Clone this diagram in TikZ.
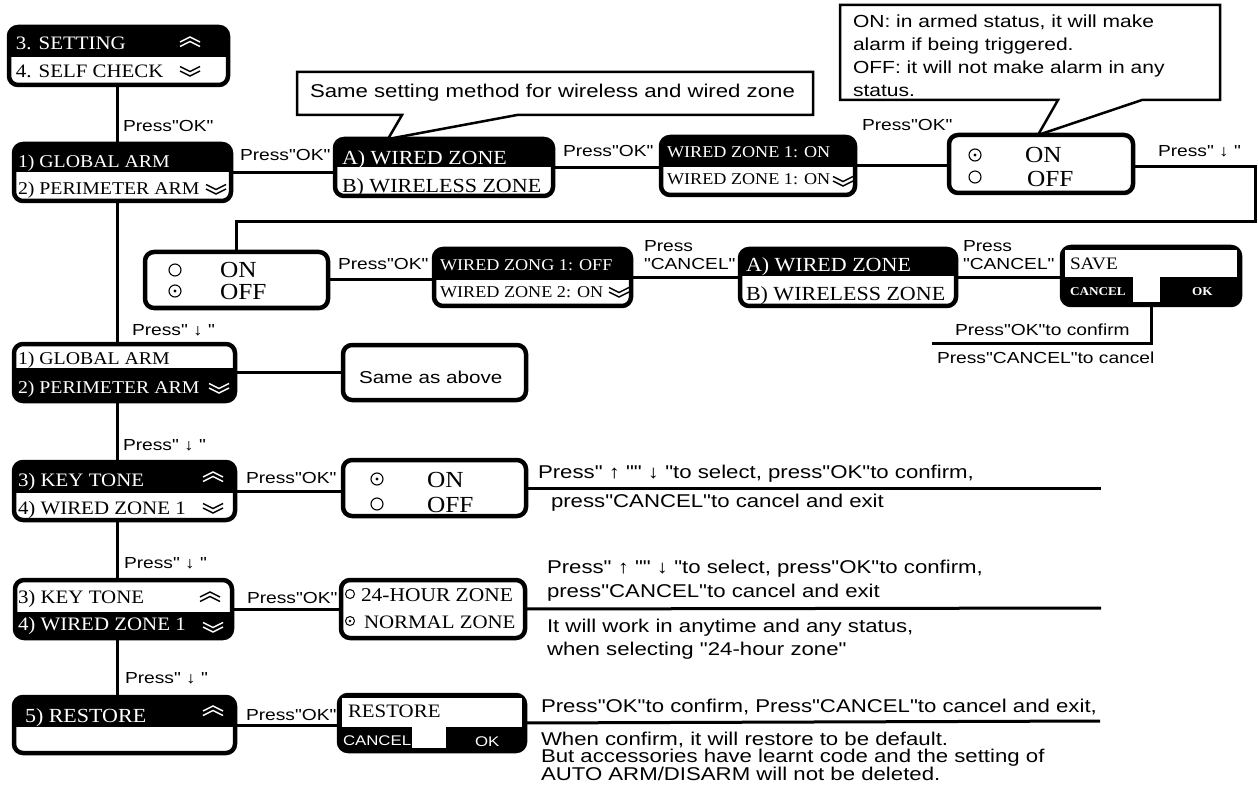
\documentclass[tikz,border=0pt]{standalone}
\usepackage{fontspec}
\setmainfont{Liberation Serif}[FakeStretch=1.1]
\newfontfamily\lab{Liberation Sans}[FakeStretch=1.2]
\usetikzlibrary{calc}
\newcommand{\sz}[1]{\fontsize{#1pt}{#1pt}\selectfont}

\begin{document}
\begin{tikzpicture}[x=1pt,y=-1pt,
  conn/.style={line width=3pt},
  box/.style={draw=black, line width=4.5pt, rounded corners=9pt, fill=white, inner sep=0pt, outer sep=0pt},
  bx/.style n args={2}{minimum width=#1pt, minimum height=#2pt},
  topblack/.style={path picture={\fill[black,sharp corners] (path picture bounding box.north west) rectangle ([yshift=-#1pt]path picture bounding box.north east);}},
  botblack/.style={path picture={\fill[black,sharp corners] ([yshift=-#1pt]path picture bounding box.north west) rectangle (path picture bounding box.south east);}},
  tx/.style={anchor=base west, inner sep=0pt, outer sep=0pt},
  lb/.style={tx, font=\lab\sz{16}},
  bt/.style={tx, font=\lab\sz{18.5}},
  sf/.style={tx, font=\sz{#1}},
  wt/.style={text=white},
  callout/.style={draw=black, line width=2.5pt, fill=white, line join=miter, sharp corners},
  holder/.style={inner sep=0pt, outer sep=0pt},
  chevup/.pic={\draw[line width=1.5pt] (-10,0)--(0,-5)--(10,0) (-10,4.5)--(0,-0.5)--(10,4.5);},
  chevdn/.pic={\draw[line width=1.5pt] (-10,0)--(0,5)--(10,0) (-10,-4.5)--(0,0.5)--(10,-4.5);},
  radon/.pic={\draw[line width=1.1pt] (0,0) circle (6pt); \fill (0,0) circle (1.6pt);},
  radoff/.pic={\draw[line width=1.1pt] (0,0) circle (6pt);},
  radons/.pic={\draw[line width=1pt] (0,0) circle (4.5pt); \fill (0,0) circle (1.3pt);},
  radoffs/.pic={\draw[line width=1pt] (0,0) circle (4.5pt);},
]
\useasboundingbox (0,0) rectangle (1258,794);
\fill[white] (0,0) rectangle (1258,794);

% ---------- boxes ----------
\node[box,bx={219}{58},topblack=30] (b1) at (118.5,56) {};
\node[box,bx={217}{57},topblack=28] (b2) at (122.5,172.5) {};
\node[box,bx={218}{57},topblack=28] (b3) at (444,167.5) {};
\node[box,bx={194}{58},topblack=30] (b4) at (758,166) {};
\node[box,bx={184}{58}] (b5) at (1041,164) {};
\node[box,bx={183}{56}] (b6) at (236.5,280) {};
\node[box,bx={197}{57},topblack=31] (b7) at (532.5,277.5) {};
\node[box,bx={216}{57},topblack=27] (b8) at (848,277.5) {};
\node[box,bx={178}{58},fill=black] (b9) at (1151,276) {};
\node[box,bx={221}{57},botblack=24] (b10) at (124.5,372.5) {};
\node[box,bx={183}{55}] (same) at (434.5,372.5) {};
\node[box,bx={221}{58},topblack=31] (b11) at (124.5,491) {};
\node[box,bx={183}{56}] (b12) at (434.5,488) {};
\node[box,bx={217}{58},botblack=32] (b13) at (123.5,609) {};
\node[box,bx={184}{58}] (b14) at (433,609) {};
\node[box,bx={221}{56},topblack=30] (b15) at (124.5,725) {};
\node[box,bx={186}{56},fill=black] (b16) at (432,723) {};

% white parts of the SAVE / RESTORE boxes
\fill[white] ($(b9.north west)+(3,3)$) rectangle ($(b9.north east)+(-3,30)$);
\fill[white] ($(b9.north west)+(71,29)$) rectangle ($(b9.north west)+(98,55)$);
\fill[white] ($(b16.north west)+(3,3)$) rectangle ($(b16.north east)+(-3,32)$);
\fill[white] ($(b16.north west)+(73,31)$) rectangle ($(b16.north west)+(107,53)$);

% ---------- connectors ----------
\coordinate (sp) at (117,0);
\coordinate (rt) at (1255,222);
\coordinate (sv) at (932,343);
\coordinate (e1) at (1101,488);
\coordinate (e2) at (1101,608);
\coordinate (e3) at (1100,721);

\draw[conn] (b1.south -| sp) -- (b2.north -| sp);
\draw[conn] (b2.south -| sp) -- (b10.north -| sp);
\draw[conn] (b10.south -| sp) -- (b11.north -| sp);
\draw[conn] (b11.south -| sp) -- (b13.north -| sp);
\draw[conn] (b13.south -| sp) -- (b15.north -| sp);
\draw[conn] (b2.east) -- (b2.east -| b3.west);
\draw[conn] (b3.east) -- (b3.east -| b4.west);
\draw[conn] (b4.east) -- (b4.east -| b5.west);
\draw[conn] ([yshift=-3pt]b5.east) -| (rt) -| (b6.north);
\draw[conn] (b6.east) -- (b6.east -| b7.west);
\draw[conn] (b7.east) -- (b7.east -| b8.west);
\draw[conn] (b8.east) -- (b8.east -| b9.west);
\draw[conn] (b9.south) |- (sv);
\draw[conn] (b10.east) -- (same.west);
\draw[conn] (b11.east) -- (b11.east -| b12.west);
\draw[conn] (b12.east) -- (e1);
\draw[conn] (b13.east) -- (b14.west);
\draw[conn] (b14.east) -- (e2);
\draw[conn] (b15.east) -- (b15.east -| b16.west);
\draw[conn] (b16.east) -- (e3);

% ---------- callouts ----------
\node[holder, minimum width=516pt, minimum height=43pt] (cl1) at (555,93.5) {};
\draw[callout] (cl1.north west) -- (cl1.north east) -- (cl1.south east)
  -- ($(cl1.south west)+(220,0)$) -- ($(b3.north west)+(53,0)$)
  -- ($(cl1.south west)+(105,0)$) -- (cl1.south west) -- cycle;
\node[tx, font=\lab\sz{18.5}] (cl1t) at (310,98) {Same setting method for wireless and wired zone};

\node[holder, minimum width=380pt, minimum height=95pt] (cl2) at (1030,52.5) {};
\draw[callout] (cl2.north west) -- (cl2.north east) -- (cl2.south east)
  -- ($(cl2.south west)+(302,0)$) -- ($(b5.north)+(-3,0)$)
  -- ($(cl2.south west)+(218,0)$) -- (cl2.south west) -- cycle;
\node[tx, font=\lab\sz{17.5}] (cl2a) at (853,28) {ON: in armed status, it will make};
\node[tx, font=\lab\sz{17.5}] (cl2b) at (853,51) {alarm if being triggered.};
\node[tx, font=\lab\sz{17.5}] (cl2c) at (853,74) {OFF: it will not make alarm in any};
\node[tx, font=\lab\sz{17.5}] (cl2d) at (853,97) {status.};

% ---------- box texts ----------
\node[sf=19, wt] (t1a) at (16,50) {3. SETTING};
\node[sf=19] (t1b) at (16,78) {4. SELF CHECK};
\pic[color=white] at (190,42) {chevup};
\pic at (190,71) {chevdn};

\node[sf=18, wt] (t2a) at (18,168) {1) GLOBAL ARM};
\node[sf=18] (t2b) at (18,195) {2) PERIMETER ARM};
\pic at (216,189) {chevdn};

\node[sf=20, wt] (t3a) at (342,165) {A) WIRED ZONE};
\node[sf=20] (t3b) at (342,193) {B) WIRELESS ZONE};

\node[sf=16.5, wt] (t4a) at (667,158) {WIRED ZONE 1: ON};
\node[sf=16.5] (t4b) at (667,185) {WIRED ZONE 1: ON};
\pic at (843,181) {chevdn};

\pic at (975,155) {radon};
\node[sf=23] (t5a) at (1025,163) {ON};
\pic at (975,177) {radoff};
\node[sf=23] (t5b) at (1027,187) {OFF};

\pic at (175,270) {radoff};
\node[sf=23] (t6a) at (220,278) {ON};
\pic at (175,291) {radon};
\node[sf=23] (t6b) at (220,300) {OFF};

\node[sf=16.5, wt] (t7a) at (440,271) {WIRED ZONG 1: OFF};
\node[sf=16.5] (t7b) at (440,298) {WIRED ZONE 2: ON};
\pic at (619,292) {chevdn};

\node[sf=20, wt] (t8a) at (746,272) {A) WIRED ZONE};
\node[sf=20] (t8b) at (746,301) {B) WIRELESS ZONE};

\node[sf=17.5] (t9a) at (1070,270) {SAVE};
\node[tx, font=\bfseries\sz{12}, wt] (t9b) at (1070,295) {CANCEL};
\node[tx, font=\bfseries\sz{12}, wt] (t9c) at (1192,295) {OK};

\node[sf=18] (t10a) at (18,364) {1) GLOBAL ARM};
\node[sf=18, wt] (t10b) at (18,393) {2) PERIMETER ARM};
\pic[color=white] at (219,388) {chevdn};

\node[tx, font=\lab\sz{17.2}] (tsame) at (359,383) {Same as above};

\node[sf=19, wt] (t11a) at (18,486) {3) KEY TONE};
\node[sf=19] (t11b) at (18,514) {4) WIRED ZONE 1};
\pic[color=white] at (213,477) {chevup};
\pic at (213,508) {chevdn};

\pic at (377,479) {radon};
\node[sf=23] (t12a) at (427,487) {ON};
\pic at (377,504) {radoff};
\node[sf=23] (t12b) at (427,512) {OFF};

\node[sf=19] (t13a) at (18,603) {3) KEY TONE};
\node[sf=19, wt] (t13b) at (18,630) {4) WIRED ZONE 1};
\pic at (210,597) {chevup};
\pic[color=white] at (213,627) {chevdn};

\pic at (350,594) {radoffs};
\node[sf=19.5] (t14a) at (361,601) {24-HOUR ZONE};
\pic at (350,621) {radons};
\node[sf=19] (t14b) at (364,628) {NORMAL ZONE};

\node[sf=20, wt] (t15a) at (25,722) {5) RESTORE};
\pic[color=white] at (213,711) {chevup};

\node[sf=19] (t16a) at (348,717) {RESTORE};
\node[tx, font=\lab\sz{14}, wt] (t16b) at (343,745) {CANCEL};
\node[tx, font=\lab\sz{14}, wt] (t16c) at (475,746) {OK};

% ---------- connector labels ----------
\node[lb] (l1) at (123,132) {Press"OK"};
\node[lb] (l2) at (240,161) {Press"OK"};
\node[lb] (l3) at (563,157) {Press"OK"};
\node[lb] (l4) at (862,131) {Press"OK"};
\node[lb] (l5) at (1158,157) {Press" ↓ "};
\node[lb] (l6) at (338,270) {Press"OK"};
\node[lb] (l7) at (132,335) {Press" ↓ "};
\node[lb] (l8) at (123,450) {Press" ↓ "};
\node[lb] (l9) at (246,483) {Press"OK"};
\node[lb] (l10) at (124,568) {Press" ↓ "};
\node[lb] (l11) at (247,603) {Press"OK"};
\node[lb] (l12) at (125,683) {Press" ↓ "};
\node[lb] (l13) at (246,720) {Press"OK"};
\node[lb] (l14a) at (644,252) {Press};
\node[lb] (l14b) at (644,270) {"CANCEL"};
\node[lb] (l15a) at (963,252) {Press};
\node[lb] (l15b) at (963,270) {"CANCEL"};
\node[lb] (l16) at (955,335) {Press"OK"to confirm};
\node[lb] (l17) at (937,363) {Press"CANCEL"to cancel};

% ---------- right-hand notes ----------
\node[bt] (n1) at (538,478) {Press" ↑ "" ↓ "to select, press"OK"to confirm,};
\node[bt] (n2) at (551,507) {press"CANCEL"to cancel and exit};
\node[bt] (n3) at (547,573) {Press" ↑ "" ↓ "to select, press"OK"to confirm,};
\node[bt] (n4) at (547,597) {press"CANCEL"to cancel and exit};
\node[bt] (n5) at (547,632) {It will work in anytime and any status,};
\node[bt] (n6) at (547,655) {when selecting "24-hour zone"};
\node[bt] (n7) at (541,712) {Press"OK"to confirm, Press"CANCEL"to cancel and exit,};
\node[bt] (n8) at (541,745) {When confirm, it will restore to be default.};
\node[bt] (n9) at (541,762) {But accessories have learnt code and the setting of};
\node[bt] (n10) at (541,780) {AUTO ARM/DISARM will not be deleted.};
\end{tikzpicture}
\end{document}
